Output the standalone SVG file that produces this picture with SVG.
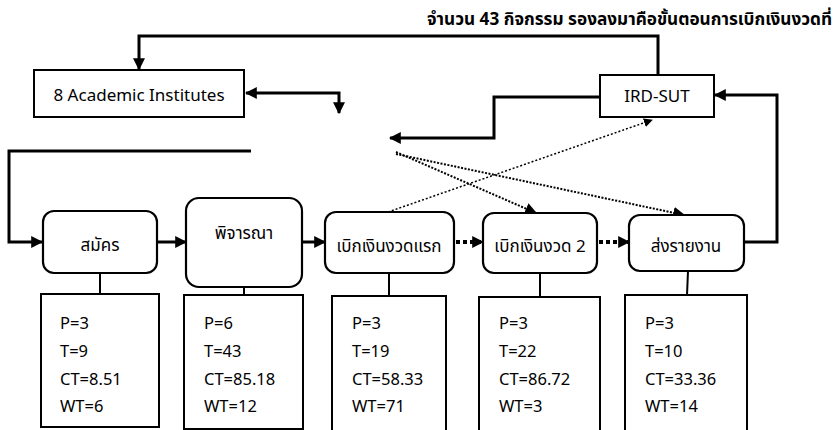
<svg xmlns="http://www.w3.org/2000/svg" width="835" height="430" viewBox="0 0 835 430">
<defs>
<style>
text{font-family:"Noto Sans","Noto Sans Thai","DejaVu Sans",sans-serif;fill:#000}
.box{fill:#fff;stroke:#000;stroke-width:2}
.proc{fill:#fff;stroke:#000;stroke-width:2.2}
.ln{fill:none;stroke:#000;stroke-width:3}
.thin{fill:none;stroke:#000;stroke-width:2}
.dot{fill:none;stroke:#000;stroke-width:2;stroke-dasharray:2 1.5}
.dotf{fill:none;stroke:#000;stroke-width:1.5;stroke-dasharray:2 2}
.dotb{fill:none;stroke:#000;stroke-width:4;stroke-dasharray:4 3}
.lbl{font-size:17px;text-anchor:middle}
.st{font-size:16.5px}
</style>
<marker id="ah" viewBox="0 0 10 10" refX="9" refY="5" markerWidth="4" markerHeight="4" orient="auto-start-reverse" markerUnits="strokeWidth"><path d="M0,0L10,5L0,10z"/></marker>
<marker id="ahs" viewBox="0 0 10 10" refX="9" refY="5" markerWidth="6" markerHeight="6" orient="auto" markerUnits="strokeWidth"><path d="M0,0L10,5L0,10z"/></marker>
<marker id="ahd" viewBox="0 0 10 10" refX="9" refY="5" markerWidth="3" markerHeight="3" orient="auto" markerUnits="strokeWidth"><path d="M0,0L10,5L0,10z"/></marker>
</defs>
<rect width="835" height="430" fill="#fff"/>
<text x="832" y="25" font-size="17" font-weight="bold" text-anchor="end" textLength="405" lengthAdjust="spacingAndGlyphs">จำนวน 43 กิจกรรม รองลงมาคือขั้นตอนการเบิกเงินงวดที่</text>

<g id="connectors">
<path class="ln" d="M658,75 V36 H139 V69" marker-end="url(#ah)"/>
<path class="ln" d="M339,113 V93 H246" marker-start="url(#ah)" marker-end="url(#ah)"/>
<path class="ln" d="M251,151 H9 V242 H42" marker-end="url(#ah)"/>
<path class="ln" d="M600,97 H494 V138 H390" marker-end="url(#ah)"/>
<path class="ln" d="M745,242 H777 V95 H715" marker-end="url(#ah)"/>
<path class="ln" d="M157,242 H186" marker-end="url(#ah)"/>
<path class="ln" d="M302,242 H325" marker-end="url(#ah)"/>
<path class="dotb" d="M456,242 H483" marker-end="url(#ahd)"/>
<path class="dotb" d="M599,242 H629" marker-end="url(#ahd)"/>
<path class="dot" d="M396,152 L536,213" marker-end="url(#ahs)"/>
<path class="dot" d="M396,154 L684,215" marker-end="url(#ahs)"/>
<path class="dotf" d="M388,212 L652,120" marker-end="url(#ahs)"/>
<path class="thin" d="M100,273 V294"/>
<path class="thin" d="M244,287 V295"/>
<path class="thin" d="M389,273 V296"/>
<path class="thin" d="M540,273 V297"/>
<path class="thin" d="M688,271 L687,295"/>
</g>

<g id="academic"><rect class="box" x="34" y="70" width="210" height="47"/><text class="lbl" x="139" y="101" font-size="16">8 Academic Institutes</text></g>
<g id="irdsut"><rect class="box" x="600" y="75" width="114" height="42"/><text class="lbl" x="657" y="102" font-size="16">IRD-SUT</text></g>

<g id="p1"><rect class="proc" x="43" y="211" width="114" height="62" rx="11"/><text class="lbl" x="100" y="251">สมัคร</text></g>
<g id="p2"><rect class="proc" x="186" y="198" width="116" height="89" rx="13"/><text class="lbl" x="244" y="239">พิจารณา</text></g>
<g id="p3"><rect class="proc" x="325" y="212" width="129" height="61" rx="11"/><text class="lbl" x="389" y="252">เบิกเงินงวดแรก</text></g>
<g id="p4"><rect class="proc" x="483" y="213" width="114" height="60" rx="11"/><text class="lbl" x="540" y="252">เบิกเงินงวด 2</text></g>
<g id="p5"><rect class="proc" x="629" y="215" width="115" height="56" rx="11"/><text class="lbl" x="686" y="252">ส่งรายงาน</text></g>

<g id="s1"><rect class="box" x="41" y="294" width="118" height="133"/>
<text class="st" x="60" y="329">P=3</text><text class="st" x="60" y="357">T=9</text><text class="st" x="60" y="385">CT=8.51</text><text class="st" x="60" y="412">WT=6</text></g>
<g id="s2"><rect class="box" x="184" y="295" width="119" height="134"/>
<text class="st" x="204" y="329">P=6</text><text class="st" x="204" y="357">T=43</text><text class="st" x="204" y="385">CT=85.18</text><text class="st" x="204" y="412">WT=12</text></g>
<g id="s3"><rect class="box" x="332" y="296" width="114" height="140"/>
<text class="st" x="352" y="329">P=3</text><text class="st" x="352" y="357">T=19</text><text class="st" x="352" y="385">CT=58.33</text><text class="st" x="352" y="412">WT=71</text></g>
<g id="s4"><rect class="box" x="479" y="297" width="121" height="140"/>
<text class="st" x="499" y="329">P=3</text><text class="st" x="499" y="357">T=22</text><text class="st" x="499" y="385">CT=86.72</text><text class="st" x="499" y="412">WT=3</text></g>
<g id="s5"><rect class="box" x="625" y="295" width="122" height="140"/>
<text class="st" x="645" y="329">P=3</text><text class="st" x="645" y="357">T=10</text><text class="st" x="645" y="385">CT=33.36</text><text class="st" x="645" y="412">WT=14</text></g>
</svg>
